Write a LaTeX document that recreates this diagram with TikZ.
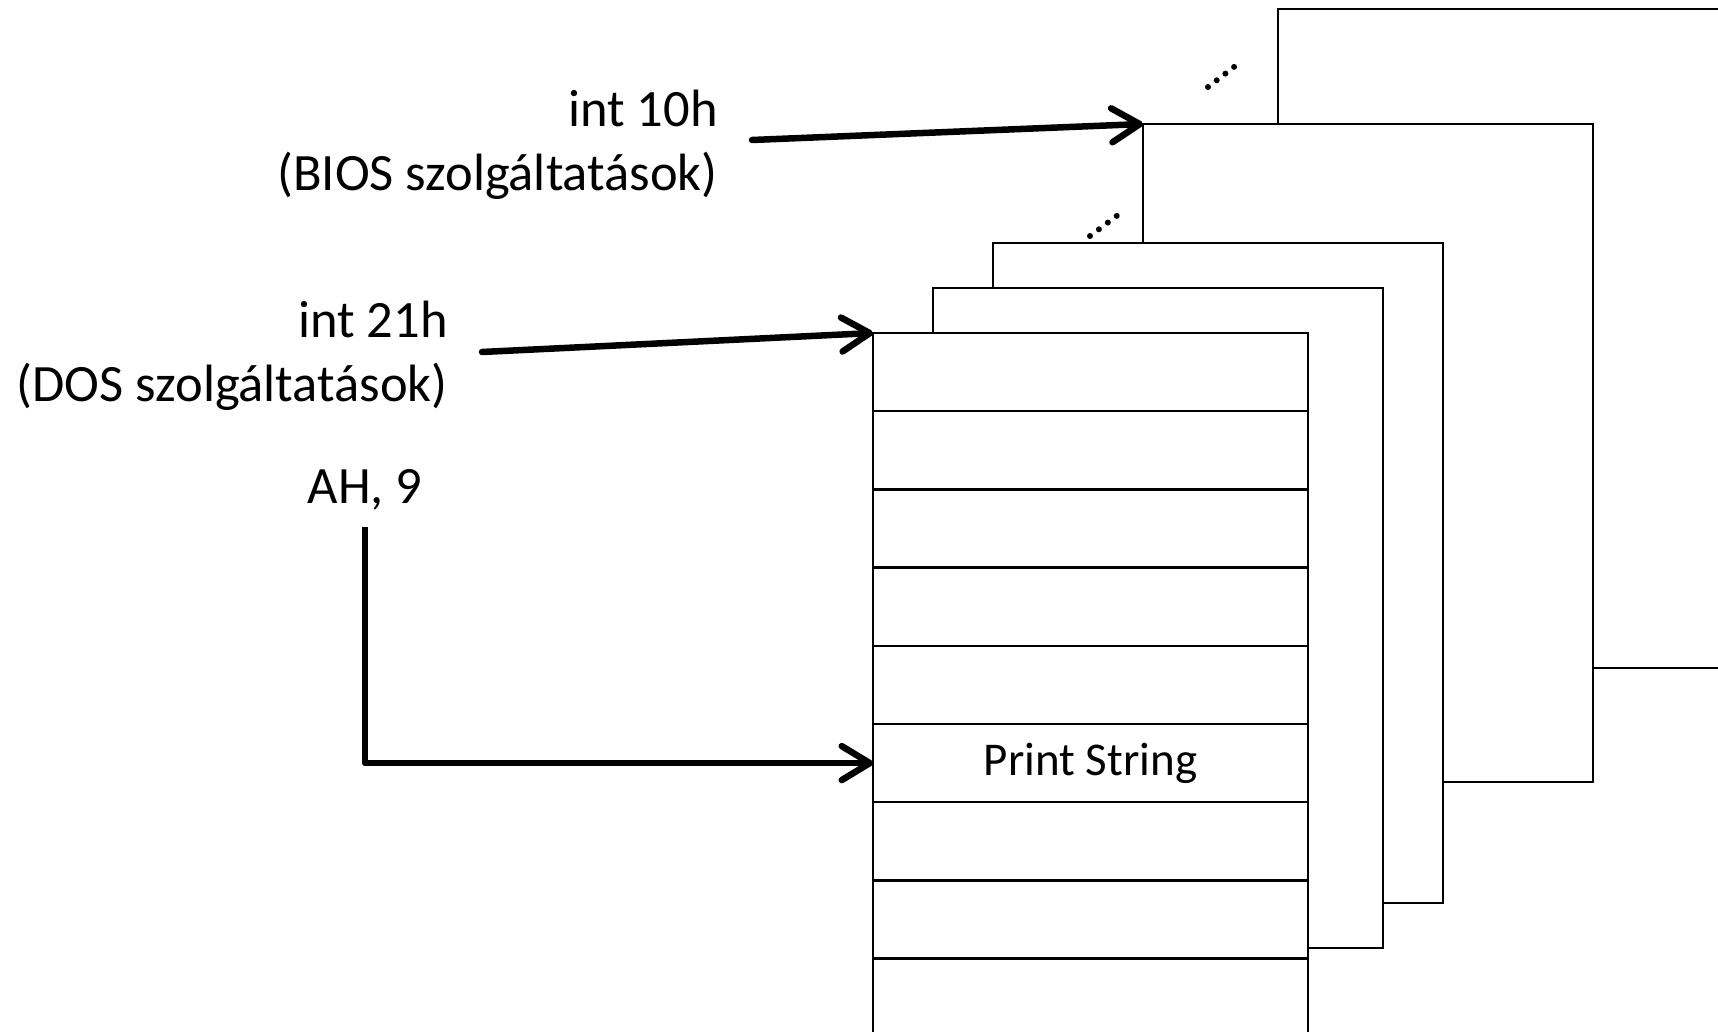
\documentclass[tikz,border=0pt]{standalone}
\usepackage{fontspec}
\setmainfont{Carlito}
\usetikzlibrary{arrows.meta}
\tikzset{
  pagebox/.style={draw, line width=2.5pt, fill=white, minimum width=450pt, minimum height=660pt, anchor=north west, inner sep=0pt, outer sep=0pt},
  rowbox/.style={draw, line width=2.5pt, fill=white, minimum width=435pt, minimum height=78.2pt, anchor=north west, inner sep=0pt, outer sep=0pt, font=\fontsize{47}{56}\selectfont},
  lbl/.style={inner sep=0pt, font=\fontsize{52.5}{64}\selectfont},
  bigarrow/.style={line width=6.5pt, line cap=round, line join=round, -{Straight Barb[length=28pt,width=34pt,round]}},
  dotty/.style={fill=black, draw=none}
}
\begin{document}
\begin{tikzpicture}[x=1pt,y=-1pt]
\useasboundingbox (0,0) rectangle (1718,1032);
\clip (0,0) rectangle (1718,1032);
\fill[white] (0,0) rectangle (1718,1032);
% back pages
\node[pagebox, minimum width=540pt, minimum height=659pt] (p5) at (1278,9) {};
\node[pagebox, minimum height=658pt] (p4) at (1143,124) {};
\node[pagebox] (p3) at (993,243) {};
\node[pagebox] (p2) at (933,288) {};
% front table
\node[rowbox] (r1) at (873,333) {};
\node[rowbox] (r2) at (r1.south west) {};
\node[rowbox] (r3) at (r2.south west) {};
\node[rowbox] (r4) at (r3.south west) {};
\node[rowbox] (r5) at (r4.south west) {};
\node[rowbox] (r6) at (r5.south west) {Print String};
\node[rowbox] (r7) at (r6.south west) {};
\node[rowbox] (r8) at (r7.south west) {};
\node[rowbox] (r9) at (r8.south west) {};
\node[rowbox] (r10) at (r9.south west) {};
% dots
\foreach \i in {0,1,2,3} {
  \fill[dotty] (1208+8.7*\i, 87-6.7*\i) circle (3pt);
  \fill[dotty] (1090+8.9*\i, 236-6.7*\i) circle (3pt);
}
% labels
\node[lbl, anchor=base east] (int10) at (718,127) {int 10h};
\node[lbl, anchor=base east] (bios) at (718,191) {(BIOS szolgáltatások)};
\node[lbl, anchor=base east] (int21) at (448,337) {int 21h};
\node[lbl, anchor=base east] (dos) at (448,401) {(DOS szolgáltatások)};
\node[lbl, anchor=base, text depth=0pt] (ah) at (365,503) {AH, 9};
% connectors
\coordinate (a10) at (752,140);
\coordinate (a21) at (482,352);
\draw[bigarrow] (a10) -- (p4.north west);
\draw[bigarrow] (a21) -- (r1.north west);
\draw[bigarrow, line cap=butt] ([yshift=-24pt]ah.south) |- (r6.west);
\end{tikzpicture}
\end{document}
